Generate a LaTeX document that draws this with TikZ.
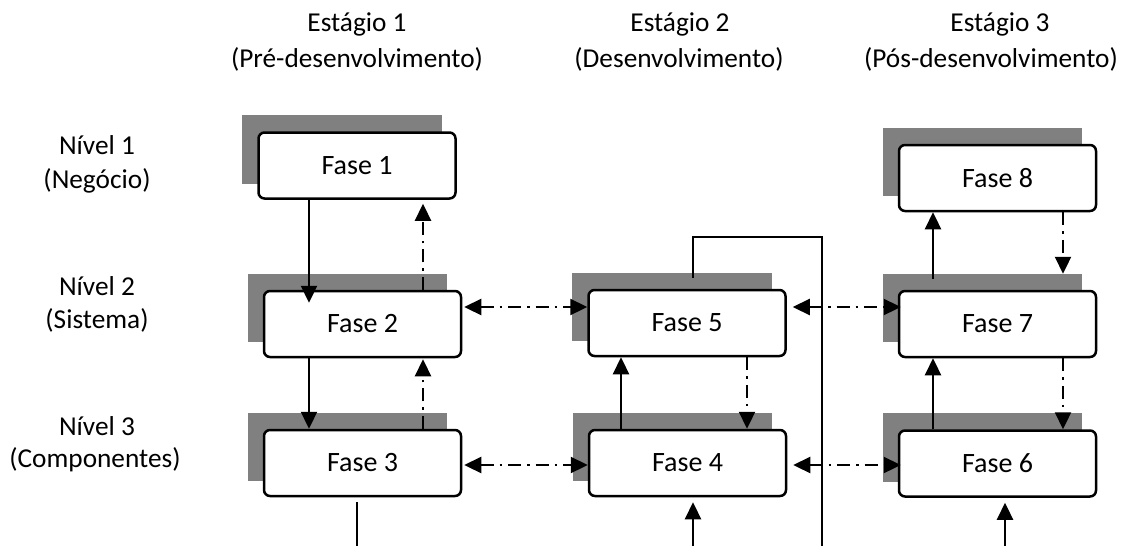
\documentclass[tikz,border=0pt]{standalone}
\usepackage{fontspec}
\setmainfont{Carlito}
\usetikzlibrary{arrows.meta,backgrounds}
\begin{document}
\begin{tikzpicture}[x=1pt,y=-1pt,
  phase/.style={draw,line width=2.5pt,fill=white,rounded corners=6pt,
    minimum width=197pt,minimum height=66pt,inner sep=0pt,
    font=\fontsize{28}{33}\selectfont},
  lbl/.style={font=\fontsize{27.3}{32}\selectfont,inner sep=0pt,anchor=base},
  con/.style={line width=2.3pt},
  tip/.tip={Triangle[length=17pt,width=16pt]},
  arr/.style={con,-tip},
  dd/.style={con,dash pattern=on 13pt off 6pt on 2.5pt off 6pt},
  ddarr/.style={dd,-tip},
  ddboth/.style={dd,tip-tip},
  shadowfill/.style={fill=black!50}
]
\useasboundingbox (0,0) rectangle (1121,546);

% labels
\node[lbl] (s1a) at (357,31) {Estágio 1};
\node[lbl] (s1b) at (357,67) {(Pré-desenvolvimento)};
\node[lbl] (s2a) at (680,31) {Estágio 2};
\node[lbl] (s2b) at (679,67) {(Desenvolvimento)};
\node[lbl] (s3a) at (1000,31) {Estágio 3};
\node[lbl] (s3b) at (991,67) {(Pós-desenvolvimento)};
\node[lbl] (n1a) at (97,154) {Nível 1};
\node[lbl] (n1b) at (97,188) {(Negócio)};
\node[lbl] (n2a) at (97,295) {Nível 2};
\node[lbl] (n2b) at (97,328) {(Sistema)};
\node[lbl] (n3a) at (97,435) {Nível 3};
\node[lbl] (n3b) at (95,467) {(Componentes)};

% phases
\node[phase] (f1) at (357,165.5) {Fase 1};
\node[phase] (f2) at (362.5,324) {Fase 2};
\node[phase] (f3) at (362.5,463) {Fase 3};
\node[phase] (f4) at (687.5,463) {Fase 4};
\node[phase] (f5) at (687,323) {Fase 5};
\node[phase] (f6) at (997.5,463.5) {Fase 6};
\node[phase] (f7) at (997.5,324) {Fase 7};
\node[phase] (f8) at (997.5,178) {Fase 8};

\begin{scope}[on background layer]
\foreach \n in {f1,f2,f3,f4,f5,f6,f7,f8}
  \fill[shadowfill] ([shift={(-15,-16)}]\n.south west) rectangle ([shift={(-15,-16)}]\n.north east);
\end{scope}

% column coordinates
\coordinate (xa) at (309,0);
\coordinate (xb) at (423,0);
\coordinate (xc) at (357,0);
\coordinate (xd) at (621,0);
\coordinate (xe) at (747,0);
\coordinate (xf) at (693,0);
\coordinate (xg) at (822,0);
\coordinate (xh) at (933,0);
\coordinate (xi) at (1063,0);
\coordinate (xj) at (1005,0);
\coordinate (ya) at (0,307);
\coordinate (yb) at (0,465);
\coordinate (yc) at (0,237);
\coordinate (bot) at (0,546);

% vertical connectors column 1
\draw[arr] (f1.south -| xa) -- ([yshift=-13pt]f2.north -| xa);
\draw[ddarr] (f2.north -| xb) -- ([yshift=-4pt]f1.south -| xb);
\draw[arr] (f2.south -| xa) -- (f3.north -| xa);
\draw[ddarr] (f3.north -| xb) -- ([yshift=-1pt]f2.south -| xb);
\draw[con] ([yshift=-5pt]f3.south -| xc) -- (bot -| xc);

% column 2
\draw[arr] (f4.north -| xd) -- (f5.south -| xd);
\draw[ddarr] (f5.south -| xe) -- (f4.north -| xe);
\draw[arr] (bot -| xf) -- ([yshift=-5pt]f4.south -| xf);
\coordinate (lp1) at (yc -| xf);
\coordinate (lp2) at (yc -| xg);
\draw[con] ([yshift=11pt]f5.north -| xf) -- (lp1) -- (lp2) -- (bot -| xg);

% column 3
\draw[arr] ([yshift=11pt]f7.north -| xh) -- (f8.south -| xh);
\draw[ddarr] (f8.south -| xi) -- ([yshift=16pt]f7.north -| xi);
\draw[arr] (f6.north -| xh) -- (f7.south -| xh);
\draw[ddarr] (f7.south -| xi) -- (f6.north -| xi);
\draw[arr] (bot -| xj) -- ([yshift=-5pt]f6.south -| xj);

% horizontal double arrows
\draw[ddboth] ([xshift=2pt]f2.east |- ya) -- (f5.west |- ya);
\draw[ddboth] ([xshift=2pt]f3.east |- yb) -- (f4.west |- yb);
\draw[ddboth] ([xshift=6pt]f5.east |- ya) -- ([xshift=3pt]f7.west |- ya);
\draw[ddboth] ([xshift=6pt]f4.east |- yb) -- ([xshift=3pt]f6.west |- yb);
\end{tikzpicture}
\end{document}
